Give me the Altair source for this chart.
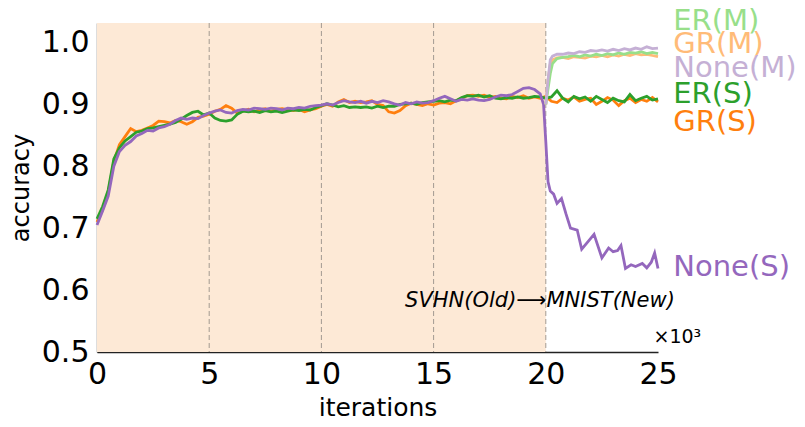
import altair as alt
import pandas as pd

# ---------------- data ----------------
x_s = [i * 0.25 for i in range(101)]  # iterations (x10^3) sample positions

er_s = [0.715, 0.735, 0.762, 0.812, 0.83, 0.841, 0.848, 0.855, 0.857, 0.861,
        0.862, 0.864, 0.866, 0.868, 0.871, 0.876, 0.882, 0.887, 0.889, 0.883,
        0.886, 0.878, 0.874, 0.873, 0.875, 0.884, 0.889, 0.888, 0.889, 0.887,
        0.89, 0.888, 0.889, 0.887, 0.889, 0.891, 0.89, 0.892, 0.891, 0.895,
        0.898, 0.901, 0.899, 0.896, 0.898, 0.895, 0.896, 0.895, 0.896, 0.894,
        0.897, 0.895, 0.897, 0.897, 0.9, 0.901, 0.902, 0.9, 0.903, 0.904,
        0.905, 0.906, 0.904, 0.907, 0.906, 0.911, 0.914, 0.913, 0.915, 0.912,
        0.914, 0.91, 0.909, 0.911, 0.91, 0.912, 0.91, 0.911, 0.913, 0.912,
        0.91, 0.912, 0.922, 0.91, 0.904, 0.913, 0.909, 0.912, 0.905, 0.913,
        0.908, 0.903, 0.91, 0.906, 0.904, 0.916, 0.906, 0.91, 0.913, 0.907,
        0.909]

gr_s = [0.71, 0.73, 0.758, 0.808, 0.835, 0.848, 0.861, 0.856, 0.858, 0.862,
        0.866, 0.873, 0.872, 0.87, 0.874, 0.872, 0.868, 0.872, 0.879, 0.881,
        0.884, 0.889, 0.892, 0.898, 0.894, 0.886, 0.889, 0.892, 0.888, 0.891,
        0.893, 0.889, 0.892, 0.893, 0.891, 0.89, 0.892, 0.888, 0.891, 0.893,
        0.897, 0.9, 0.897, 0.904, 0.908, 0.903, 0.905, 0.903, 0.904, 0.906,
        0.9, 0.898, 0.888, 0.886, 0.89, 0.898, 0.902, 0.9, 0.898, 0.901,
        0.899, 0.902, 0.903, 0.901, 0.906, 0.91, 0.914, 0.915, 0.913, 0.915,
        0.911, 0.913, 0.91, 0.909, 0.913, 0.911, 0.914, 0.91, 0.912, 0.91,
        0.913, 0.905, 0.903, 0.91, 0.907, 0.912, 0.905, 0.908, 0.91, 0.9,
        0.905, 0.911, 0.907, 0.898, 0.906, 0.91, 0.903, 0.908, 0.905, 0.911,
        0.904]

x_none_s = [i * 0.25 for i in range(80)] + [
    19.9, 20.0, 20.1, 20.2, 20.35, 20.5, 20.7, 20.9, 21.1, 21.4, 21.6, 21.9,
    22.15, 22.5, 22.8, 23.0, 23.2, 23.35, 23.55, 23.8, 24.0, 24.3, 24.5,
    24.7, 24.85, 25.0]
none_s = [0.705, 0.728, 0.752, 0.80, 0.824, 0.834, 0.84, 0.849, 0.853, 0.858,
          0.857, 0.862, 0.864, 0.868, 0.874, 0.878, 0.876, 0.878, 0.877, 0.882,
          0.886, 0.889, 0.891, 0.887, 0.886, 0.89, 0.892, 0.891, 0.894, 0.893,
          0.892, 0.894, 0.893, 0.891, 0.894, 0.893, 0.895, 0.894, 0.897, 0.898,
          0.899, 0.901, 0.899, 0.903, 0.906, 0.904, 0.903, 0.905, 0.902, 0.905,
          0.903, 0.906, 0.904, 0.901, 0.899, 0.903, 0.901, 0.904, 0.902, 0.903,
          0.906, 0.91, 0.913, 0.909, 0.905, 0.908, 0.907, 0.909, 0.907, 0.906,
          0.908, 0.912, 0.915, 0.914, 0.916, 0.921, 0.926, 0.927, 0.924, 0.917,
          0.9, 0.84, 0.775, 0.76, 0.755, 0.74, 0.748, 0.723, 0.70, 0.697, 0.666,
          0.679, 0.69, 0.652, 0.668, 0.662, 0.664, 0.672, 0.635, 0.641, 0.638,
          0.643, 0.636, 0.645, 0.66, 0.635]

x_m = [20.0, 20.1, 20.2, 20.3, 20.5, 20.75, 21.0, 21.25, 21.5, 21.75, 22.0,
       22.25, 22.5, 22.75, 23.0, 23.25, 23.5, 23.75, 24.0, 24.25, 24.5, 24.75,
       25.0]
none_m = [0.90, 0.94, 0.972, 0.978, 0.981, 0.981, 0.983, 0.982, 0.985, 0.984,
          0.987, 0.986, 0.988, 0.986, 0.989, 0.987, 0.99, 0.988, 0.991, 0.989,
          0.993, 0.99, 0.991]
er_m = [0.90, 0.925, 0.95, 0.966, 0.974, 0.976, 0.977, 0.979, 0.977, 0.98,
        0.978, 0.981, 0.979, 0.982, 0.98, 0.983, 0.981, 0.984, 0.983, 0.985,
        0.982, 0.984, 0.982]
gr_m = [0.90, 0.94, 0.965, 0.972, 0.975, 0.976, 0.974, 0.977, 0.976, 0.975,
        0.978, 0.977, 0.979, 0.977, 0.98, 0.978, 0.981, 0.979, 0.982, 0.98,
        0.981, 0.979, 0.977]

label_text = ["ER(M)", "GR(M)", "None(M)", "ER(S)", "GR(S)", "None(S)"]
label_y = [1.034, 0.998, 0.958, 0.916, 0.872, 0.6375]
label_color = ["#98df8a", "#ffbb78", "#c5b0d5", "#2ca02c", "#ff7f0e", "#9467bd"]
label_x = 25.68

task_bounds = [5, 10, 15, 20]
old_task = (0, 20)
x_ticks = [0, 5, 10, 15, 20, 25]
y_ticks = [0.5, 0.6, 0.7, 0.8, 0.9, 1.0]

W, H = 561, 329
FONT = "DejaVu Sans"

xs = alt.Scale(domain=[0, 25], nice=False, zero=False)
ys = alt.Scale(domain=[0.5, 1.0315], nice=False, zero=False)

shade = alt.Chart(pd.DataFrame({"a": [old_task[0]], "b": [old_task[1]]})).mark_rect(
    color="#fde9d6").encode(
    x=alt.X("a:Q", scale=xs, axis=alt.Axis(
        values=x_ticks, title="iterations", grid=False, ticks=False,
        labelFlush=False, labelFontSize=30, labelFont=FONT, labelColor="black",
        labelPadding=7, titleFont=FONT, titleFontSize=25,
        titleFontWeight="normal", titleColor="black", titlePadding=6,
        domainColor="#222", domainWidth=1.3, format="d")),
    x2="b:Q",
    y=alt.value(0), y2=alt.value(H))

rules = alt.Chart(pd.DataFrame({"x": task_bounds})).mark_rule(
    color="#a39a92", strokeDash=[5, 3], strokeWidth=1).encode(
    x=alt.X("x:Q", scale=xs), y=alt.value(0), y2=alt.value(H))


def line(xv, yv, color, yaxis=False):
    df = pd.DataFrame({"x": xv, "y": yv})
    enc_y = alt.Y("y:Q", scale=ys)
    if yaxis:
        enc_y = alt.Y("y:Q", scale=ys, axis=alt.Axis(
            values=y_ticks, title="accuracy", grid=False, ticks=False,
            labelFlush=False, labelFontSize=30, labelFont=FONT,
            labelColor="black", labelPadding=8, titleFont=FONT,
            titleFontSize=24, titleFontWeight="normal", titleColor="black",
            titlePadding=8, domainColor="#222", domainWidth=1.3, format=".1f"))
    return alt.Chart(df).mark_line(color=color, strokeWidth=2.8).encode(
        x=alt.X("x:Q", scale=xs), y=enc_y)


lines = [
    line(x_s, gr_s, "#ff7f0e", yaxis=True),
    line(x_s, er_s, "#2ca02c"),
    line(x_none_s, none_s, "#9467bd"),
    line(x_m, gr_m, "#ffbb78"),
    line(x_m, er_m, "#98df8a"),
    line(x_m, none_m, "#c5b0d5"),
]

lab_df = pd.DataFrame({"t": label_text, "y": label_y, "c": label_color,
                       "x": [label_x] * len(label_text)})
labels = alt.Chart(lab_df).mark_text(
    align="left", baseline="middle", fontSize=29, font=FONT).encode(
    x=alt.X("x:Q", scale=xs), y=alt.Y("y:Q", scale=ys),
    text="t:N", color=alt.Color("c:N", scale=None))

ann_df = pd.DataFrame({"t": ["SVHN(Old)\u27f6MNIST(New)"], "x": [19.74], "y": [0.5816]})
ann = alt.Chart(ann_df).mark_text(
    align="center", baseline="middle", fontSize=21, font=FONT,
    fontStyle="italic", color="black").encode(
    x=alt.X("x:Q", scale=xs), y=alt.Y("y:Q", scale=ys), text="t:N")

off_df = pd.DataFrame({"t": ["\u00d710\u00b3"], "x": [24.8], "y": [0.524]})
off = alt.Chart(off_df).mark_text(
    align="left", baseline="middle", fontSize=19, font=FONT, color="black").encode(
    x=alt.X("x:Q", scale=xs), y=alt.Y("y:Q", scale=ys), text="t:N")

chart = alt.layer(shade, rules, *lines, labels, ann, off).properties(
    width=W, height=H,
    autosize=alt.AutoSizeParams(type="none"),
    padding={"left": 89, "top": 15, "right": 138, "bottom": 73},
).configure_view(stroke=None)

chart.save("out.html", embed_options={"renderer": "svg", "actions": False})
